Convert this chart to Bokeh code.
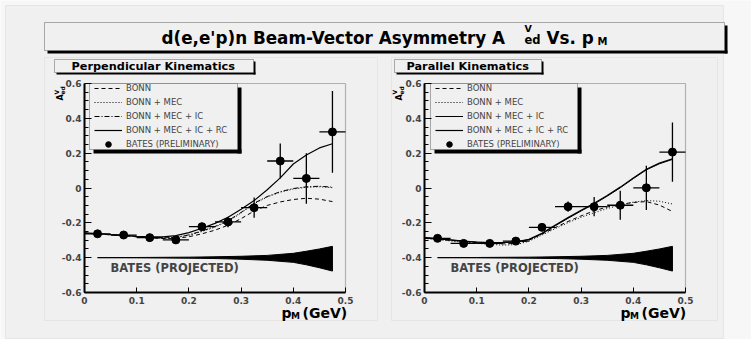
import numpy as np
from bokeh.plotting import figure
from bokeh.models import (Label, BoxAnnotation, Legend, LegendItem, FixedTicker, Range1d,
                          LinearAxis)
from bokeh.embed import file_html
from bokeh.resources import INLINE

# ---------------- data ----------------
bin_centers = [0.025, 0.075, 0.125, 0.175, 0.225, 0.275, 0.325, 0.375, 0.425, 0.475]
bin_half = [0.025, 0.025, 0.025, 0.025, 0.025, 0.025, 0.025, 0.025, 0.025, 0.025]

perp_asym = [-0.263, -0.270, -0.285, -0.298, -0.222, -0.195, -0.113, 0.155, 0.055, 0.322]
perp_err = [0.008, 0.008, 0.008, 0.010, 0.016, 0.030, 0.058, 0.100, 0.145, 0.235]
par_asym = [-0.289, -0.318, -0.318, -0.305, -0.226, -0.107, -0.107, -0.099, 0.001, 0.206]
par_err = [0.008, 0.008, 0.008, 0.012, 0.015, 0.030, 0.055, 0.083, 0.127, 0.170]

theory_x = [0.0, 0.025, 0.05, 0.075, 0.1, 0.125, 0.15, 0.175, 0.2, 0.225,
            0.25, 0.275, 0.3, 0.325, 0.35, 0.375, 0.4, 0.425, 0.45, 0.475]
perp_bonn = [-0.260, -0.264, -0.269, -0.274, -0.280, -0.286, -0.290, -0.289, -0.280, -0.263,
             -0.242, -0.214, -0.176, -0.132, -0.100, -0.080, -0.066, -0.059, -0.064, -0.078]
perp_mec = [-0.260, -0.264, -0.269, -0.274, -0.280, -0.285, -0.288, -0.284, -0.271, -0.250,
            -0.224, -0.192, -0.144, -0.090, -0.052, -0.024, -0.006, 0.004, 0.007, 0.002]
perp_ic = [-0.259, -0.263, -0.268, -0.273, -0.279, -0.284, -0.287, -0.283, -0.269, -0.247,
           -0.221, -0.188, -0.140, -0.087, -0.049, -0.021, -0.003, 0.007, 0.010, 0.005]
perp_rc = [-0.258, -0.262, -0.267, -0.272, -0.277, -0.281, -0.281, -0.273, -0.256, -0.231,
           -0.203, -0.168, -0.122, -0.072, -0.010, 0.058, 0.138, 0.190, 0.230, 0.254]
par_bonn = [-0.288, -0.294, -0.301, -0.308, -0.314, -0.318, -0.321, -0.318, -0.300, -0.265,
            -0.228, -0.192, -0.160, -0.131, -0.109, -0.094, -0.083, -0.078, -0.098, -0.135]
par_mec = [-0.290, -0.297, -0.304, -0.311, -0.318, -0.323, -0.328, -0.325, -0.306, -0.270,
           -0.234, -0.199, -0.168, -0.142, -0.118, -0.098, -0.081, -0.072, -0.076, -0.092]
par_ic = [-0.286, -0.292, -0.299, -0.306, -0.311, -0.314, -0.314, -0.310, -0.297, -0.263,
          -0.218, -0.174, -0.132, -0.092, -0.047, 0.001, 0.054, 0.104, 0.139, 0.164]
par_rc = [-0.285, -0.291, -0.298, -0.305, -0.310, -0.313, -0.313, -0.309, -0.295, -0.260,
          -0.214, -0.170, -0.128, -0.088, -0.043, 0.005, 0.058, 0.108, 0.143, 0.168]

proj_x = [0.025, 0.1, 0.2, 0.25, 0.3, 0.35, 0.4, 0.425, 0.45, 0.475]
proj_hi = [-0.400, -0.399, -0.397, -0.395, -0.392, -0.387, -0.375, -0.363, -0.350, -0.335]
proj_lo = [-0.400, -0.401, -0.403, -0.405, -0.409, -0.415, -0.427, -0.441, -0.458, -0.477]

y_ticks = [-0.6, -0.4, -0.2, 0, 0.2, 0.4, 0.6]
y_tick_labels = ["-0.6", "-0.4", "-0.2", "0", "0.2", "0.4", "0.6"]
y_minor = [-0.55, -0.5, -0.45, -0.35, -0.3, -0.25, -0.15, -0.1, -0.05,
           0.05, 0.1, 0.15, 0.25, 0.3, 0.35, 0.45, 0.5, 0.55]
x_ticks = [0, 0.1, 0.2, 0.3, 0.4, 0.5]
x_tick_labels = ["0", "0.1", "0.2", "0.3", "0.4", "0.5"]

legend_labels = ["BONN", "BONN + MEC", "BONN + MEC + IC", "BONN + MEC + IC + RC",
                 "BATES (PRELIMINARY)"]
title_main = "d(e,e'p)n Beam-Vector Asymmetry A"
title_sup = "V"
title_sub = "ed"
title_tail = "Vs. p"
title_tail_sub = "M"
panel_titles = ["Perpendicular Kinematics", "Parallel Kinematics"]
projected_label = "BATES (PROJECTED)"

# ---------------- layout (page pixels) ----------------
W, H = 751, 339
BG = "#f0f0f0"
OUT = "#f7f7f7"
FONT = "DejaVu Sans"
FR_TOP, FR_BOT = 83, 292
L_X0, L_X1 = 84, 345
R_X0, R_X1 = 424, 685

px_per_x = (L_X1 - L_X0) / (x_ticks[-1] - x_ticks[0])
px_per_y = (FR_BOT - FR_TOP) / (y_ticks[-1] - y_ticks[0])

p = figure(width=W, height=H,
           x_range=Range1d(x_ticks[0] - L_X0 / px_per_x, x_ticks[0] + (W - L_X0) / px_per_x),
           y_range=Range1d(y_ticks[0] - (H - FR_BOT) / px_per_y, y_ticks[-1] + FR_TOP / px_per_y),
           x_axis_type=None, y_axis_type=None, min_border=0,
           output_backend="svg", toolbar_location=None,
           background_fill_color=OUT, border_fill_color=OUT)
p.extra_x_ranges = {"rx": Range1d(x_ticks[0] - R_X0 / px_per_x, x_ticks[0] + (W - R_X0) / px_per_x)}
p.grid.visible = False
p.outline_line_color = None


def Y(py):
    return H - py


def sbox(l, r, t, b, line="black", fill=None, lw=1, level="underlay"):
    p.add_layout(BoxAnnotation(left=l, right=r, bottom=Y(b), top=Y(t),
                               left_units="screen", right_units="screen",
                               bottom_units="screen", top_units="screen",
                               line_color=line, line_width=lw,
                               fill_color=fill, fill_alpha=1 if fill else 0, level=level))


def txt(x, y, s, size, bold=True, angle=0):
    # y is the vertical centre of the text line (page pixels)
    p.add_layout(Label(x=x, y=Y(y), x_units="screen", y_units="screen", text=s,
                       text_font=FONT, text_font_size=f"{size}px",
                       text_font_style="bold" if bold else "normal",
                       angle=angle, text_align="left", text_baseline="middle",
                       text_color="black"))


# canvas background and pads
sbox(5, 723, 5, 338, line="#c8c8c8", fill=BG)
sbox(44, 377, 57, 320, line="#cccccc")
sbox(391, 717, 57, 320, line="#cccccc")

# title box
sbox(724, 727, 25, 53, line=None, fill="black")
sbox(47, 727, 50, 53, line=None, fill="black")
sbox(44, 724, 22, 50, line="black", fill=BG)
txt(161, 37, title_main, 16.8)
txt(524, 28, title_sup, 9.5)
txt(524, 39.5, title_sub, 11.5)
txt(546, 37, title_tail, 16.8)
txt(597, 40.5, title_tail_sub, 10)


def make_panel(rname, fx0, fx1, asym, err, bonn, mec, ic, rc, ic_dash, title,
               lab_box, lab_x, ylab_x, xlab_xs, leg_box):
    # panel title box with shadow
    bl, br = lab_box
    sbox(br, br + 2, 61, 74, line=None, fill="black")
    sbox(bl + 2, br + 2, 72, 74, line=None, fill="black")
    sbox(bl, br, 59, 72, line="black", fill=BG)
    txt(lab_x, 65.5, title, 11.3)

    # data frame (top/right edges)
    sbox(fx0, fx1, FR_TOP, FR_BOT, line="#222222", lw=1.2)

    # axes
    yax = LinearAxis(x_range_name=rname, fixed_location=x_ticks[0],
                     bounds=(y_ticks[0], y_ticks[-1]),
                     ticker=FixedTicker(ticks=y_ticks, minor_ticks=y_minor),
                     major_label_overrides=dict(zip(y_ticks, y_tick_labels)))
    xax = LinearAxis(x_range_name=rname, fixed_location=y_ticks[0],
                     bounds=(x_ticks[0], x_ticks[-1]),
                     ticker=FixedTicker(ticks=x_ticks, minor_ticks=[]),
                     major_label_overrides=dict(zip(x_ticks, x_tick_labels)))
    for ax in (xax, yax):
        ax.axis_line_width = 2
        ax.major_tick_out = 0
        ax.minor_tick_out = 0
        ax.major_label_text_font = FONT
        ax.major_label_text_font_style = "bold"
        ax.major_label_text_font_size = "9px"
    yax.major_tick_in = 7
    yax.minor_tick_in = 4
    yax.major_label_standoff = 3
    xax.major_tick_in = 5
    xax.major_label_standoff = 4
    p.add_layout(yax, "left")
    p.add_layout(xax, "below")

    # projected band
    p.patch(x=proj_x + proj_x[::-1], y=proj_hi + proj_lo[::-1], x_range_name=rname,
            fill_color="black", line_color="black", line_width=1)

    # theory curves
    r_bonn = p.line(theory_x, bonn, x_range_name=rname, line_color="black", line_width=1,
                    line_dash="4 3")
    r_mec = p.line(theory_x, mec, x_range_name=rname, line_color="black", line_width=1,
                   line_dash="1 2")
    r_ic = p.line(theory_x, ic, x_range_name=rname, line_color="black", line_width=1,
                  line_dash=ic_dash)
    r_rc = p.line(theory_x, rc, x_range_name=rname, line_color="black", line_width=1.2)

    # measured points with error bars
    xc = np.array(bin_centers)
    xh = np.array(bin_half)
    ya = np.array(asym)
    ye = np.array(err)
    p.segment(x0=xc - xh, y0=ya, x1=xc + xh, y1=ya, x_range_name=rname,
              line_color="black", line_width=1.3)
    p.segment(x0=xc, y0=ya - ye, x1=xc, y1=ya + ye, x_range_name=rname,
              line_color="black", line_width=1.3)
    r_pts = p.scatter(xc, ya, x_range_name=rname, size=8, marker="circle",
                      fill_color="black", line_color="black")

    # legend with box and shadow
    ll, lr = leg_box
    sbox(lr, lr + 4, FR_TOP + 4, 153, line=None, fill="black")
    sbox(ll + 4, lr + 4, 149, 153, line=None, fill="black")
    sbox(ll, lr, FR_TOP, 149, line="black", fill=BG)
    legend = Legend(items=[LegendItem(label=legend_labels[0], renderers=[r_bonn]),
                           LegendItem(label=legend_labels[1], renderers=[r_mec]),
                           LegendItem(label=legend_labels[2], renderers=[r_ic]),
                           LegendItem(label=legend_labels[3], renderers=[r_rc]),
                           LegendItem(label=legend_labels[4], renderers=[r_pts])],
                    location=(ll + 5, Y(151)), padding=0, spacing=0, margin=0,
                    glyph_width=28, glyph_height=14, label_height=14, label_standoff=4,
                    label_text_font=FONT, label_text_font_size="8.5px",
                    border_line_alpha=0, background_fill_alpha=0)
    p.add_layout(legend)

    # projected label
    p.add_layout(Label(x=0.05, y=-0.459, x_range_name=rname, text=projected_label,
                       text_font=FONT, text_font_size="11.5px", text_font_style="bold",
                       text_baseline="middle"))

    # y-axis title A^V_ed (rotated)
    txt(ylab_x, 100, "A", 8, angle=np.pi / 2)
    txt(ylab_x + 2, 94, title_sub, 6, angle=np.pi / 2)
    txt(ylab_x - 4.5, 94, title_sup, 6, angle=np.pi / 2)

    # x-axis title p_M (GeV)
    txt(xlab_xs[0], 312.5, "p", 14)
    txt(xlab_xs[1], 315.5, "M", 9)
    txt(xlab_xs[2], 312.5, "(GeV)", 14)


make_panel("default", L_X0, L_X1, perp_asym, perp_err, perp_bonn, perp_mec, perp_ic, perp_rc,
           "5 2 1 2", panel_titles[0], (54, 253), 71, 60, (281, 290.5, 302), (89, 237))
make_panel("rx", R_X0, R_X1, par_asym, par_err, par_bonn, par_mec, par_ic, par_rc,
           "solid", panel_titles[1], (394, 541), 406, 398.5, (620, 629.5, 641), (430, 577))

open("out.html", "w").write(file_html(p, INLINE))
